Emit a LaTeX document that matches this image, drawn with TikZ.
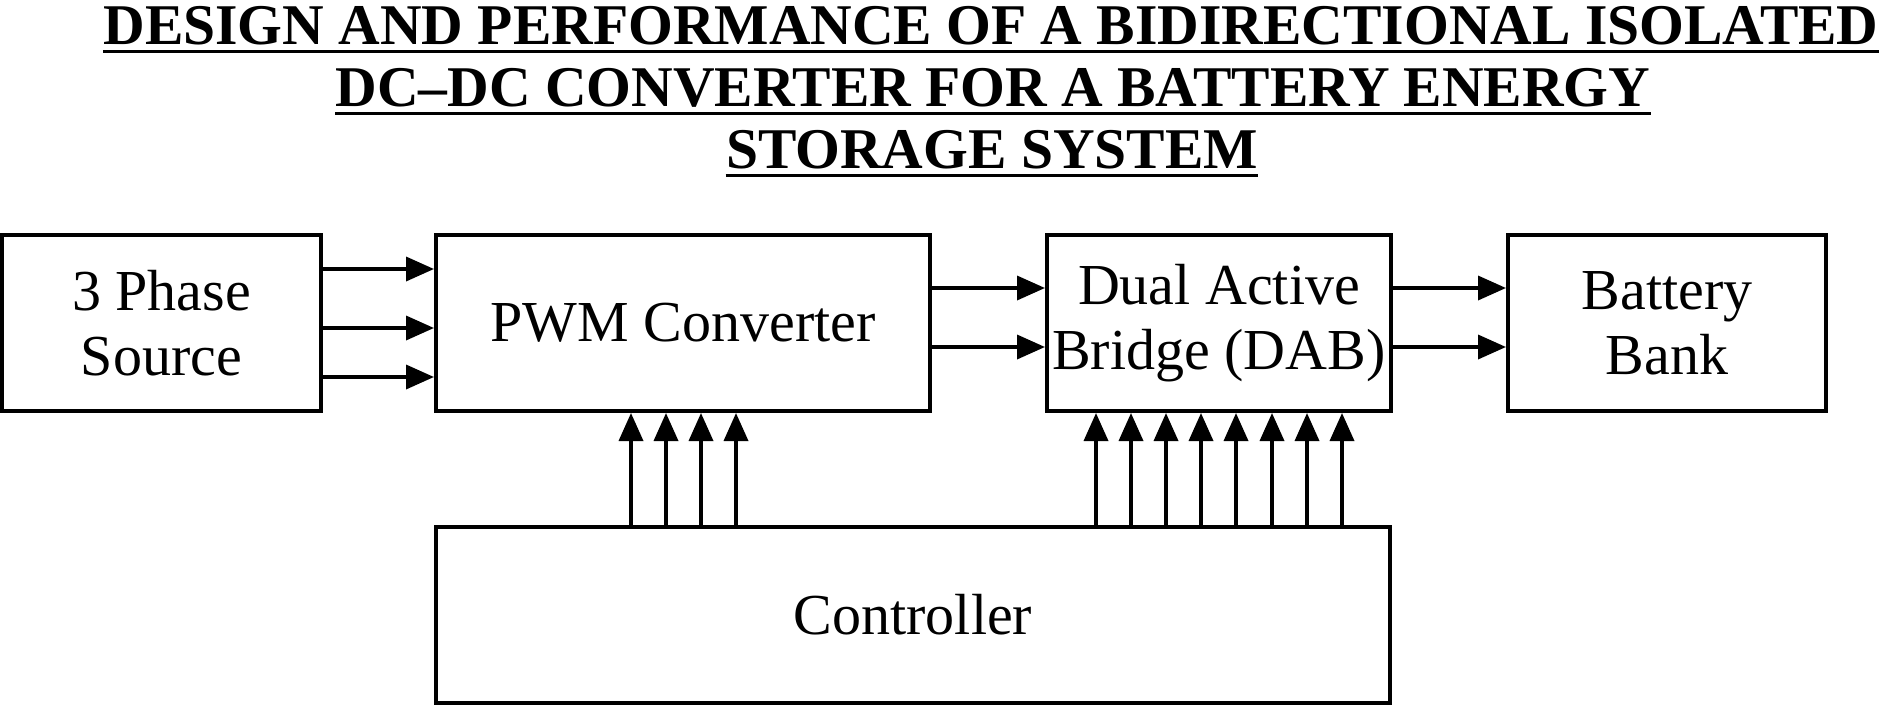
\documentclass[tikz,border=0pt]{standalone}
\usepackage{fontspec}
\setmainfont{Liberation Serif}
\usetikzlibrary{arrows.meta}
\begin{document}
\begin{tikzpicture}[x=0.5pt,y=-0.5pt,
  blk/.style={draw, line width=2pt, inner sep=0pt, align=center, font=\fontsize{29}{32.5}\selectfont},
  arr/.style={line width=1.8pt, -{Triangle[length=14pt,width=12pt]}},
  ttl/.style={font=\bfseries\fontsize{28.8}{30}\selectfont, inner sep=0pt, anchor=base},
  ul/.style={line width=1.7pt}]
\useasboundingbox (0,0) rectangle (1884,707);
% title
\node[ttl] (t1) at (991,44) {DESIGN AND PERFORMANCE OF A BIDIRECTIONAL ISOLATED};
\node[ttl] (t2) at (993,106) {DC–DC CONVERTER FOR A BATTERY ENERGY};
\node[ttl] (t3) at (992,168) {STORAGE SYSTEM};
\foreach \t in {t1,t2,t3}
  \draw[ul] ([yshift=-3.6pt]\t.base west) -- ([yshift=-3.6pt]\t.base east);
% blocks
\node[blk, minimum width=159.5pt, minimum height=88pt] (src) at (161.5,323) {3 Phase\\Source};
\node[blk, minimum width=247pt, minimum height=88pt] (pwm) at (683,323) {PWM Converter};
\node[blk, minimum width=172pt, minimum height=88pt] (dab) at (1219,323) {Dual Active\\Bridge (DAB)};
\node[blk, minimum width=159pt, minimum height=88pt] (bat) at (1667,323) {Battery\\Bank};
\node[blk, minimum width=477pt, minimum height=88pt] (ctl) at (913,615) {Controller};
% connectors
\foreach \y in {269,328,377}
  \draw[arr] (src.east |- 0,\y) -- (pwm.west |- 0,\y);
\foreach \y in {288,347}
  \draw[arr] (pwm.east |- 0,\y) -- (dab.west |- 0,\y);
\foreach \y in {288,347}
  \draw[arr] (dab.east |- 0,\y) -- (bat.west |- 0,\y);
\foreach \x in {631,666,701,736}
  \draw[arr] (ctl.north -| \x,0) -- (pwm.south -| \x,0);
\foreach \x in {1096,1131,1166,1201,1236,1272,1307,1342}
  \draw[arr] (ctl.north -| \x,0) -- (dab.south -| \x,0);
\end{tikzpicture}
\end{document}
